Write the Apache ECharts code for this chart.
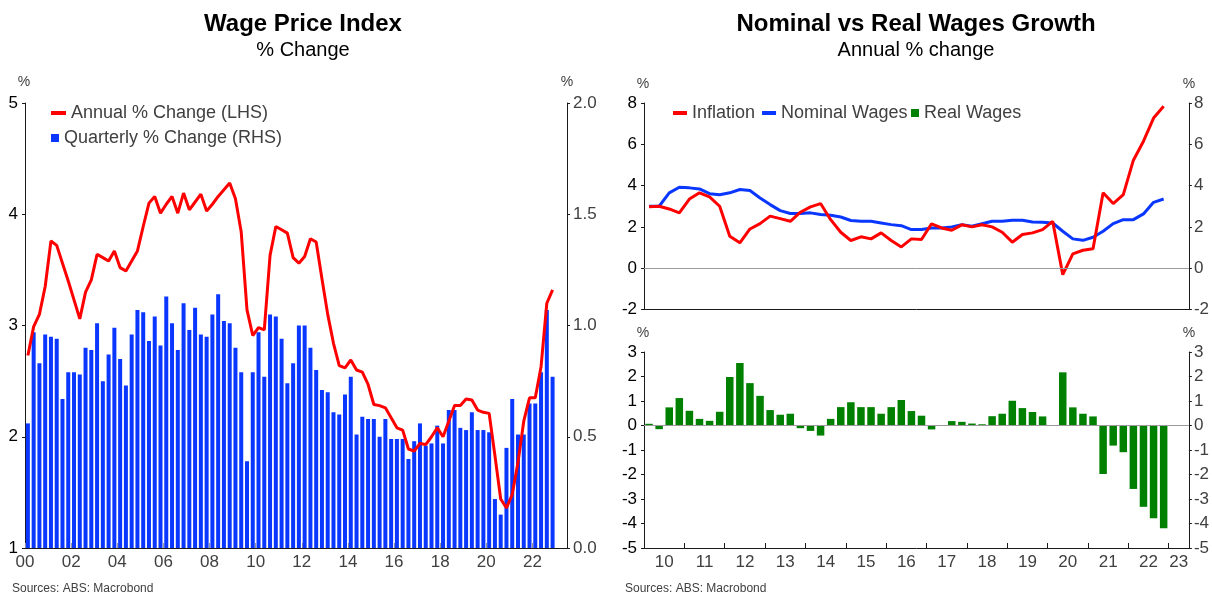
<!DOCTYPE html>
<html>
<head>
<meta charset="utf-8">
<script src="https://cdn.jsdelivr.net/npm/echarts@6/dist/echarts.min.js"></script>
<style>
html,body{margin:0;padding:0;background:#ffffff;}
#chart{width:1212px;height:594px;}
</style>
</head>
<body>
<div id="chart"></div>
<script>
// ---------------- DATA ----------------
// Left chart: Wage Price Index, quarterly from 2000 Q1 to 2022 Q4
const wpiStartYear = 2000;
const wpiAnnual = [2.73,2.99,3.10,3.35,3.76,3.72,3.56,3.40,3.23,3.06,
  3.30,3.41,3.64,3.61,3.58,3.67,3.52,3.49,3.58,3.67,
  3.89,4.10,4.16,4.01,4.09,4.16,4.01,4.19,4.04,4.11,
  4.18,4.03,4.09,4.16,4.22,4.28,4.14,3.84,3.14,2.91,
  2.98,2.96,3.63,3.89,3.86,3.83,3.61,3.56,3.62,3.78,
  3.75,3.42,3.10,2.84,2.64,2.62,2.69,2.60,2.58,2.47,
  2.29,2.28,2.26,2.17,2.08,2.06,1.89,1.87,1.94,1.93,
  2.00,2.08,2.00,2.14,2.28,2.28,2.34,2.33,2.24,2.22,
  2.21,1.83,1.44,1.36,1.48,1.77,2.14,2.35,2.35,2.63,
  3.20,3.32];
const wpiQuarterly = [0.56,0.97,0.83,0.96,0.95,0.94,0.67,0.79,0.79,0.78,
  0.90,0.89,1.01,0.75,0.87,0.99,0.85,0.73,0.96,1.07,
  1.06,0.93,1.04,0.91,1.13,1.01,0.89,1.10,0.98,1.08,
  0.96,0.95,1.05,1.14,1.02,1.01,0.90,0.79,0.39,0.79,
  0.97,0.77,1.05,1.04,0.94,0.74,0.83,1.00,1.00,0.90,
  0.80,0.71,0.70,0.61,0.60,0.69,0.77,0.51,0.59,0.58,
  0.58,0.50,0.58,0.49,0.49,0.49,0.40,0.48,0.56,0.46,
  0.47,0.55,0.47,0.62,0.62,0.54,0.53,0.61,0.53,0.53,
  0.52,0.22,0.15,0.45,0.67,0.51,0.51,0.65,0.65,0.79,
  1.07,0.77];
const leftXTickLabels = ['00','02','04','06','08','10','12','14','16','18','20','22'];

// Right chart: Nominal vs Real wages, quarterly from 2010 Q1 to 2022 Q4
const rwStartYear = 2010;
const inflation = [2.97,3.00,2.87,2.68,3.35,3.65,3.45,3.00,1.55,1.23,
  1.90,2.16,2.52,2.40,2.27,2.71,2.97,3.13,2.35,1.74,
  1.34,1.52,1.42,1.71,1.34,1.03,1.42,1.39,2.15,1.95,
  1.84,2.10,2.00,2.10,2.00,1.74,1.26,1.63,1.71,1.87,
  2.27,-0.31,0.69,0.87,0.94,3.65,3.13,3.56,5.23,6.15,
  7.27,7.84];
const nominalWages = [3.00,3.00,3.65,3.92,3.89,3.84,3.61,3.56,3.65,3.81,
  3.76,3.40,3.08,2.79,2.65,2.65,2.68,2.60,2.56,2.48,
  2.31,2.27,2.27,2.19,2.11,2.06,1.87,1.87,1.95,1.95,
  2.00,2.11,2.03,2.15,2.27,2.27,2.32,2.32,2.24,2.23,
  2.19,1.79,1.42,1.35,1.50,1.79,2.16,2.35,2.35,2.63,
  3.19,3.35];
const realWages = [0.07,-0.15,0.74,1.12,0.60,0.27,0.19,0.56,1.98,2.55,
  1.73,1.21,0.63,0.44,0.48,-0.11,-0.22,-0.41,0.27,0.75,
  0.95,0.75,0.75,0.48,0.75,1.04,0.59,0.40,-0.16,0.00,
  0.18,0.15,0.08,0.05,0.38,0.48,1.01,0.71,0.55,0.37,
  0.01,2.17,0.74,0.48,0.37,-1.98,-0.82,-1.09,-2.59,-3.32,
  -3.79,-4.19];
const rightXTickLabels = ['10','11','12','13','14','15','16','17','18','19','20','21','22','23'];

// ---------------- BUILD ----------------
const FONT = "'Liberation Sans', Arial, Helvetica, sans-serif";
const GREY = '#404040';
const RED = '#ff0000';
const BLUE = '#0a37ff';
const GREEN = '#008000';

// quarter centre positions on a value (year) axis
function qx(start, i) { return start + i * 0.25 + 0.125; }
function pairs(start, arr) { return arr.map((v, i) => [qx(start, i), v]); }

const leftMin = 2000, leftMax = 2023.5;
const rightMin = 2010, rightMax = 2023.5;

const leftTickVals = leftXTickLabels.map(s => 2000 + Number(s));
const rightYears = rightXTickLabels.map(s => 2000 + Number(s));
const rightLabelVals = rightYears.map(y => (Math.max(y, rightMin) + Math.min(y + 1, rightMax)) / 2);
const rightTickVals = rightYears.filter(y => y > rightMin);

function yearLabel(v, vals, labels) {
  for (let i = 0; i < vals.length; i++) if (Math.abs(vals[i] - v) < 1e-6) return labels[i];
  return '';
}

const axisLineStyle = { color: '#1a1a1a', width: 1 };

function yAx(grid, pos, min, max, interval, color, margin, fmt) {
  return {
    type: 'value', gridIndex: grid, position: pos, min: min, max: max, interval: interval,
    axisLine: { show: true, lineStyle: axisLineStyle },
    axisTick: { show: true, length: 3, lineStyle: axisLineStyle },
    axisLabel: { color: color, fontSize: 17, fontFamily: FONT, margin: margin, formatter: fmt },
    splitLine: { show: false }
  };
}

const legendText = { color: GREY, fontSize: 18, fontFamily: FONT };

const option = {
  animation: false,
  backgroundColor: '#ffffff',
  textStyle: { fontFamily: FONT },
  grid: [
    { left: 25, right: 645, top: 103, bottom: 46 },
    { left: 644, right: 23, top: 103, height: 206.5 },
    { left: 644, right: 23, top: 352, height: 196 }
  ],
  xAxis: [
    {
      type: 'value', gridIndex: 0, min: leftMin, max: leftMax,
      axisLine: { show: true, onZero: false, lineStyle: axisLineStyle },
      axisTick: { show: true, inside: true, length: 5, customValues: leftTickVals, lineStyle: { color: '#9a9a9a' } },
      axisLabel: { color: GREY, fontSize: 17, fontFamily: FONT, margin: 6, customValues: leftTickVals,
        formatter: v => yearLabel(v, leftTickVals, leftXTickLabels) },
      splitLine: { show: false }
    },
    {
      type: 'value', gridIndex: 1, min: rightMin, max: rightMax,
      axisLine: { show: true, onZero: false, lineStyle: axisLineStyle },
      axisTick: { show: false }, axisLabel: { show: false }, splitLine: { show: false }
    },
    {
      type: 'value', gridIndex: 2, min: rightMin, max: rightMax,
      axisLine: { show: true, onZero: false, lineStyle: axisLineStyle },
      axisTick: { show: true, inside: true, length: 5, customValues: rightTickVals, lineStyle: axisLineStyle },
      axisLabel: { color: GREY, fontSize: 17, fontFamily: FONT, margin: 6, customValues: rightLabelVals,
        formatter: v => yearLabel(v, rightLabelVals, rightXTickLabels) },
      splitLine: { show: false }
    }
  ],
  yAxis: [
    yAx(0, 'left', 1, 5, 1, '#000000', 7),
    yAx(0, 'right', 0, 2, 0.5, GREY, 6, v => v.toFixed(1)),
    yAx(1, 'left', -2, 8, 2, '#000000', 7),
    yAx(1, 'right', -2, 8, 2, GREY, 5),
    yAx(2, 'left', -5, 3, 1, '#000000', 7),
    yAx(2, 'right', -5, 3, 1, GREY, 5)
  ],
  legend: [
    { data: ['Annual % Change (LHS)'], left: 51, top: 104, padding: 0, icon: 'rect', itemWidth: 15, itemHeight: 4,
      textStyle: legendText, selectedMode: false },
    { data: ['Quarterly % Change (RHS)'], left: 51, top: 129, padding: 0, icon: 'rect', itemWidth: 8, itemHeight: 8,
      textStyle: legendText, selectedMode: false },
    { data: ['Inflation', 'Nominal Wages'], left: 673, top: 104, padding: 0, icon: 'rect', itemWidth: 14, itemHeight: 4, itemGap: 7,
      textStyle: legendText, selectedMode: false },
    { data: ['Real Wages'], left: 911, top: 104, padding: 0, icon: 'rect', itemWidth: 8, itemHeight: 8,
      textStyle: legendText, selectedMode: false }
  ],
  series: [
    { name: 'Quarterly % Change (RHS)', type: 'bar', xAxisIndex: 0, yAxisIndex: 1,
      data: pairs(wpiStartYear, wpiQuarterly), barWidth: 4, itemStyle: { color: BLUE } },
    { name: 'Annual % Change (LHS)', type: 'line', xAxisIndex: 0, yAxisIndex: 0,
      data: pairs(wpiStartYear, wpiAnnual), symbol: 'none', lineStyle: { color: RED, width: 3 }, itemStyle: { color: RED } },
    { name: 'Nominal Wages', type: 'line', xAxisIndex: 1, yAxisIndex: 2,
      data: pairs(rwStartYear, nominalWages), symbol: 'none', lineStyle: { color: BLUE, width: 3 }, itemStyle: { color: BLUE },
      markLine: { silent: true, symbol: ['none', 'none'], label: { show: false },
        lineStyle: { color: '#9a9a9a', width: 1, type: 'solid' }, data: [{ yAxis: 0 }] } },
    { name: 'Inflation', type: 'line', xAxisIndex: 1, yAxisIndex: 2,
      data: pairs(rwStartYear, inflation), symbol: 'none', lineStyle: { color: RED, width: 3 }, itemStyle: { color: RED } },
    { name: 'Real Wages', type: 'bar', xAxisIndex: 2, yAxisIndex: 4,
      data: pairs(rwStartYear, realWages), barWidth: 7.5, itemStyle: { color: GREEN },
      markLine: { silent: true, symbol: ['none', 'none'], label: { show: false },
        lineStyle: { color: '#9a9a9a', width: 1, type: 'solid' }, data: [{ yAxis: 0 }] } }
  ],
  graphic: [
    { type: 'text', x: 303, y: 24, style: { text: 'Wage Price Index', font: 'bold 24px ' + FONT, fill: '#000', align: 'center', verticalAlign: 'middle' } },
    { type: 'text', x: 303, y: 50, style: { text: '% Change', font: '20px ' + FONT, fill: '#000', align: 'center', verticalAlign: 'middle' } },
    { type: 'text', x: 916, y: 24, style: { text: 'Nominal vs Real Wages Growth', font: 'bold 24px ' + FONT, fill: '#000', align: 'center', verticalAlign: 'middle' } },
    { type: 'text', x: 916, y: 50, style: { text: 'Annual % change', font: '20px ' + FONT, fill: '#000', align: 'center', verticalAlign: 'middle' } },
    { type: 'text', x: 24, y: 82, style: { text: '%', font: '14px ' + FONT, fill: GREY, align: 'center', verticalAlign: 'middle' } },
    { type: 'text', x: 567, y: 82, style: { text: '%', font: '14px ' + FONT, fill: GREY, align: 'center', verticalAlign: 'middle' } },
    { type: 'text', x: 643, y: 84, style: { text: '%', font: '14px ' + FONT, fill: GREY, align: 'center', verticalAlign: 'middle' } },
    { type: 'text', x: 1189, y: 84, style: { text: '%', font: '14px ' + FONT, fill: GREY, align: 'center', verticalAlign: 'middle' } },
    { type: 'text', x: 643, y: 333, style: { text: '%', font: '14px ' + FONT, fill: GREY, align: 'center', verticalAlign: 'middle' } },
    { type: 'text', x: 1189, y: 333, style: { text: '%', font: '14px ' + FONT, fill: GREY, align: 'center', verticalAlign: 'middle' } },
    { type: 'text', x: 12, y: 589, style: { text: 'Sources: ABS: Macrobond', font: '12px ' + FONT, fill: GREY, align: 'left', verticalAlign: 'middle' } },
    { type: 'text', x: 625, y: 589, style: { text: 'Sources: ABS: Macrobond', font: '12px ' + FONT, fill: GREY, align: 'left', verticalAlign: 'middle' } }
  ]
};

const chart = echarts.init(document.getElementById('chart'), null, { renderer: 'canvas' });
chart.setOption(option);
</script>
</body>
</html>
